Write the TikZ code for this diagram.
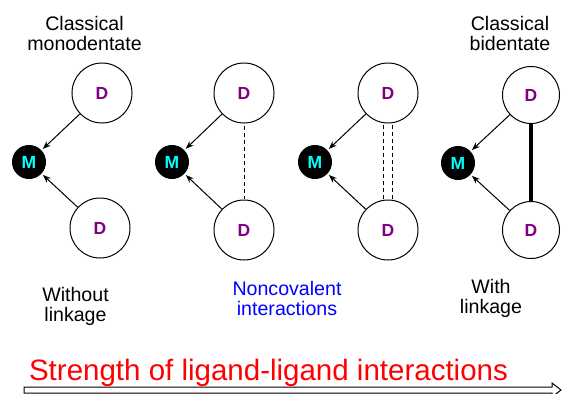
\documentclass[tikz,border=0pt]{standalone}
\usepackage{fontspec}
\setmainfont{Liberation Sans}
\usetikzlibrary{arrows.meta}
\definecolor{dpurple}{RGB}{128,0,128}
\definecolor{mcyan}{RGB}{0,255,255}
\definecolor{nblue}{RGB}{0,0,255}
\definecolor{sred}{RGB}{255,0,0}
\tikzset{
  metal/.style={circle, fill=black, draw=black, line width=1pt, minimum size=33pt, inner sep=0pt,
    text=mcyan, font=\bfseries\fontsize{17.5}{17.5}\selectfont},
  donor/.style={circle, draw=black, line width=1pt, fill=white, minimum size=60pt, inner sep=0pt,
    text=dpurple, font=\bfseries\fontsize{17.5}{17.5}\selectfont},
  donor4/.style={donor, minimum size=57pt},
  bond/.style={line width=1pt, -{Stealth[length=8pt,width=6pt,inset=2.5pt]}, shorten >=2pt},
  weaklink/.style={line width=1pt, dash pattern=on 4pt off 3pt, shorten <=2pt, shorten >=1pt},
  covlink/.style={line width=4.5pt},
  % the base anchor of a two-line caption sits on its second line
  caption/.style={align=center, font=\fontsize{19.6}{20}\selectfont, inner sep=0pt, anchor=base},
}
\begin{document}
\begin{tikzpicture}[x=1pt, y=-1pt]
  \useasboundingbox (0,0) rectangle (563,394);

  % headings
  \node[caption] (h1) at (84.5,50) {Classical\\monodentate};
  \node[caption] (h4) at (510,50) {Classical\\bidentate};

  % classical monodentate
  \node[metal] (m1) at (29,162) {M};
  \node[donor] (d1t) at (102,93) {D};
  \node[donor] (d1b) at (100,228) {D};
  \draw[bond] (d1t) -- (m1);
  \draw[bond] (d1b) -- (m1);

  % single noncovalent contact
  \node[metal] (m2) at (172,162) {M};
  \node[donor] (d2t) at (244,93) {D};
  \node[donor] (d2b) at (244,230) {D};
  \draw[bond] (d2t) -- (m2);
  \draw[bond] (d2b) -- (m2);
  \draw[weaklink] (d2t) -- (d2b);

  % double noncovalent contact
  \node[metal] (m3) at (315,162) {M};
  \node[donor] (d3t) at (388,93) {D};
  \node[donor] (d3b) at (388,230) {D};
  \draw[bond] (d3t) -- (m3);
  \draw[bond] (d3b) -- (m3);
  \draw[weaklink] (d3t.261) -- (d3b.99);
  \draw[weaklink] (d3t.279) -- (d3b.81);

  % classical bidentate
  \node[metal] (m4) at (458,163) {M};
  \node[donor4] (d4t) at (531,95) {D};
  \node[donor4] (d4b) at (531,230) {D};
  \draw[bond] (d4t) -- (m4);
  \draw[bond] (d4b) -- (m4);
  \draw[covlink] (d4t) -- (d4b);

  % captions under the panels
  \node[caption] (c1) at (75.5,321) {Without\\linkage};
  \node[caption, text=nblue] (c2) at (287,315) {Noncovalent\\interactions};
  \node[caption] (c4) at (491,313) {With\\linkage};

  % strength scale
  \node[font=\fontsize{29.5}{29.5}\selectfont, text=sred, inner sep=0pt, anchor=base] (scale) at (268.5,380)
    {Strength of ligand-ligand interactions};
  \coordinate (ax0) at (24,390);
  \coordinate (ax1) at (561,390);
  \draw[line width=1pt, fill=white]
    ([yshift=-3pt]ax0) -- ([xshift=-9pt,yshift=-3pt]ax1) -- ([xshift=-9pt,yshift=-7pt]ax1) -- (ax1)
    -- ([xshift=-9pt,yshift=7pt]ax1) -- ([xshift=-9pt,yshift=3pt]ax1) -- ([yshift=3pt]ax0) -- cycle;
\end{tikzpicture}
\end{document}
